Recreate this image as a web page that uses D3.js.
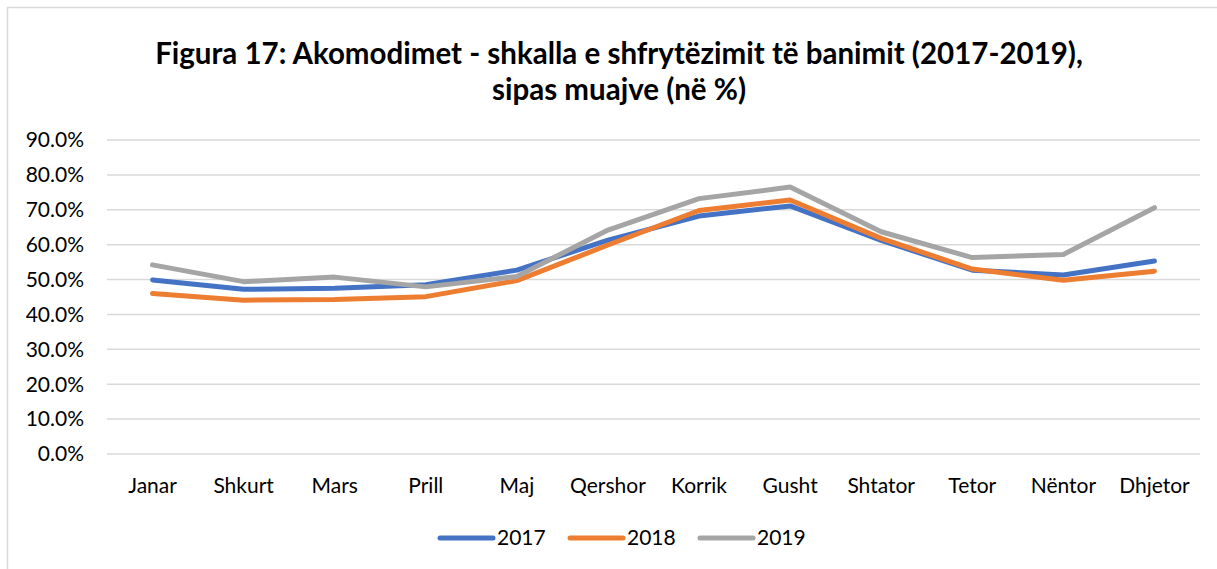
<!DOCTYPE html>
<head>
    <meta charset="utf-8">
    <title>Figura 17</title>
    <style>
        body { margin: 0; background: #fff; }
        text { font-family: Lato, "Open Sans", sans-serif; fill: #000; }
    </style>
    <script src="https://d3js.org/d3.v7.min.js"></script>
</head>
<body>
    <script>
        var months = ["Janar", "Shkurt", "Mars", "Prill", "Maj", "Qershor", "Korrik", "Gusht", "Shtator", "Tetor", "Nëntor", "Dhjetor"];
        var years = ["2017", "2018", "2019"];
        var v2017 = [49.9, 47.2, 47.5, 48.5, 52.7, 61.3, 68.2, 71.1, 61.2, 52.7, 51.3, 55.3];
        var v2018 = [46.0, 44.1, 44.3, 45.1, 49.7, 59.9, 69.8, 72.8, 61.8, 53.0, 49.8, 52.4];
        var v2019 = [54.2, 49.4, 50.7, 47.9, 50.9, 64.2, 73.2, 76.5, 63.7, 56.3, 57.2, 70.6];
        var yTicks = [0, 10, 20, 30, 40, 50, 60, 70, 80, 90];
        var colors = ["#4472C4", "#ED7D31", "#A5A5A5"];
        var series = [v2017, v2018, v2019];

        var width = 1217, height = 569;
        var margin = { top: 140, left: 107, right: 17, bottom: 115 };

        var svg = d3.select("body").append("svg")
            .attr("width", width)
            .attr("height", height);

        // outer chart border
        svg.append("rect")
            .attr("x", 7.5).attr("y", 7.5)
            .attr("width", width).attr("height", height)
            .attr("fill", "none")
            .attr("stroke", "#d9d9d9")
            .attr("stroke-width", 1.5);

        var title = svg.append("text")
            .attr("text-anchor", "middle")
            .attr("font-weight", "bold")
            .attr("font-size", 29.5);
        title.append("tspan").attr("x", 619).attr("y", 64)
            .text("Figura 17: Akomodimet - shkalla e shfrytëzimit të banimit (2017-2019),");
        title.append("tspan").attr("x", 619).attr("y", 100)
            .text("sipas muajve (në %)");

        var x = d3.scalePoint()
            .domain(months)
            .range([margin.left, width - margin.right])
            .padding(0.5);

        var y = d3.scaleLinear()
            .domain([0, 90])
            .range([454, 140]);

        // gridlines
        svg.append("g").selectAll("line")
            .data(yTicks)
            .enter().append("line")
            .attr("x1", margin.left).attr("x2", width - margin.right)
            .attr("y1", d => y(d)).attr("y2", d => y(d))
            .attr("stroke", "#d9d9d9")
            .attr("stroke-width", 1.5);

        // y labels
        svg.append("g").selectAll("text")
            .data(yTicks)
            .enter().append("text")
            .attr("x", 84)
            .attr("y", d => y(d))
            .attr("dy", "0.35em")
            .attr("text-anchor", "end")
            .attr("font-size", 21)
            .text(d => d.toFixed(1) + "%");

        // x labels
        svg.append("g").selectAll("text")
            .data(months)
            .enter().append("text")
            .attr("x", d => x(d))
            .attr("y", 493)
            .attr("text-anchor", "middle")
            .attr("font-size", 21)
            .text(d => d);

        var line = d3.line()
            .x((d, i) => x(months[i]))
            .y(d => y(d));

        svg.append("g").selectAll("path")
            .data(series)
            .enter().append("path")
            .attr("d", d => line(d))
            .attr("fill", "none")
            .attr("stroke", (d, i) => colors[i])
            .attr("stroke-width", 5)
            .attr("stroke-linecap", "round")
            .attr("stroke-linejoin", "round");

        // legend
        var legend = svg.append("g").selectAll("g")
            .data(years)
            .enter().append("g")
            .attr("transform", (d, i) => "translate(" + (440 + i * 130) + ",538)");
        legend.append("line")
            .attr("x1", 0).attr("x2", 53)
            .attr("stroke", (d, i) => colors[i])
            .attr("stroke-width", 5)
            .attr("stroke-linecap", "round");
        legend.append("text")
            .attr("x", 57)
            .attr("dy", "0.35em")
            .attr("font-size", 21)
            .text(d => d);
    </script>
</body>
